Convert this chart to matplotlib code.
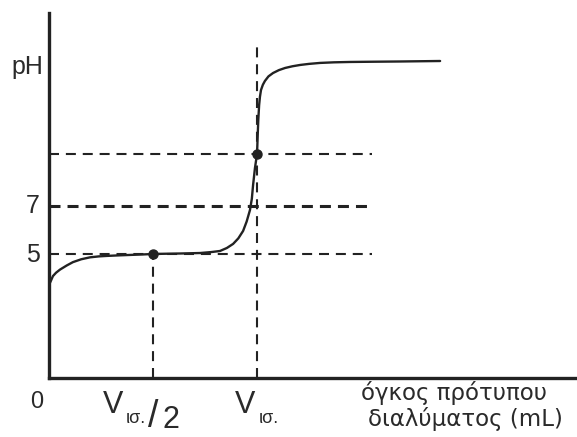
import matplotlib
matplotlib.use("Agg")
import matplotlib.pyplot as plt

# Titration curve (x in units of V_eq, y in pH)
vol = [0.0, 0.01, 0.019, 0.034, 0.053, 0.085, 0.115, 0.155, 0.197, 0.24, 0.279, 0.33, 0.389, 0.45, 0.5,
       0.56, 0.63, 0.68, 0.726, 0.78, 0.822, 0.855, 0.885, 0.91, 0.933, 0.95, 0.966, 0.975,
       0.981, 0.99, 1.0, 1.003, 1.006, 1.01, 1.014, 1.019, 1.028, 1.038, 1.055, 1.077, 1.105,
       1.135, 1.17, 1.207, 1.25, 1.303, 1.37, 1.447, 1.56, 1.688, 1.88]
ph = [3.71, 3.9, 4.08, 4.22, 4.35, 4.52, 4.66, 4.78, 4.86, 4.9, 4.92, 4.94, 4.96, 4.98, 5.0,
      5.01, 5.02, 5.03, 5.04, 5.08, 5.125, 5.25, 5.42, 5.65, 5.96, 6.35, 6.83, 7.3,
      7.875, 8.58, 9.17, 9.9, 10.58, 11.2, 11.55, 11.83, 12.05, 12.21, 12.4, 12.54, 12.66,
      12.75, 12.82, 12.875, 12.92, 12.96, 12.985, 13.0, 13.01, 13.02, 13.04]

half_eq = 0.5
eq = 1.0
ph_half = 5.0
ph_eq = 9.17
ph_neutral = 7.0
guide_end = 1.553
eq_line_top = 13.7

fig = plt.figure(figsize=(5.77, 4.37), dpi=100)
ax = fig.add_axes([49/577, 59/437, 1 - 49/577, 365/437])
ax.set_xlim(0, 2.538)
ax.set_ylim(-0.167, 15.04)

dark = "#222222"
for s in ["top", "right"]:
    ax.spines[s].set_visible(False)
for s in ["left", "bottom"]:
    ax.spines[s].set_linewidth(2.4)
    ax.spines[s].set_color(dark)
ax.set_xticks([])
ax.set_yticks([])

dash = (0, (4.8, 3.3))
ax.plot([0, guide_end], [ph_half, ph_half], color=dark, lw=1.5, linestyle=dash)
ax.plot([0, guide_end], [ph_neutral, ph_neutral], color=dark, lw=2.2, linestyle=(0, (3.6, 2.3)))
ax.plot([0, guide_end], [ph_eq, ph_eq], color=dark, lw=1.5, linestyle=dash)
ax.plot([half_eq, half_eq], [-0.167, ph_half], color=dark, lw=1.5, linestyle=dash)
ax.plot([eq, eq], [-0.167, eq_line_top], color=dark, lw=1.5, linestyle=dash)

ax.plot(vol, ph, color=dark, lw=1.7, solid_capstyle="round")
ax.plot([half_eq, eq], [ph_half, ph_eq], linestyle="none", marker="o", ms=6.5, color=dark)

fam = ["Liberation Sans", "DejaVu Sans"]
tc = "#2a2a2a"
fig.text(11/577, 1 - 74/437, "pH", fontsize=18, family=fam, color=tc, va="baseline", ha="left")
fig.text(33/577, 1 - 213/437, "7", fontsize=18, family=fam, color=tc, va="baseline", ha="center")
fig.text(33/577, 1 - 262/437, "5", fontsize=18, family=fam, color=tc, va="baseline", ha="center")
fig.text(37/577, 1 - 408/437, "0", fontsize=17, family=fam, color=tc, va="baseline", ha="center")

# V_ισ./2
fig.text(103/577, 1 - 413/437, "V", fontsize=22, family=fam, color=tc, va="baseline", ha="left")
fig.text(126/577, 1 - 423/437, "ισ.", fontsize=13, family=fam, color=tc, va="baseline", ha="left")
fig.text(148/577, 1 - 427/437, "/", fontsize=27, family=fam, color=tc, va="baseline", ha="left")
fig.text(163/577, 1 - 428/437, "2", fontsize=22, family=fam, color=tc, va="baseline", ha="left")
# V_ισ.
fig.text(235/577, 1 - 413/437, "V", fontsize=22, family=fam, color=tc, va="baseline", ha="left")
fig.text(259/577, 1 - 423/437, "ισ.", fontsize=13, family=fam, color=tc, va="baseline", ha="left")

lab = ["DejaVu Sans"]
fig.text(454/577, 1 - 400/437, "όγκος πρότυπου", fontsize=16.5, family=lab, color=tc, va="baseline", ha="center")
fig.text(465/577, 1 - 426/437, "διαλύματος (mL)", fontsize=16.5, family=lab, color=tc, va="baseline", ha="center")

fig.savefig("out.png", dpi=100)
